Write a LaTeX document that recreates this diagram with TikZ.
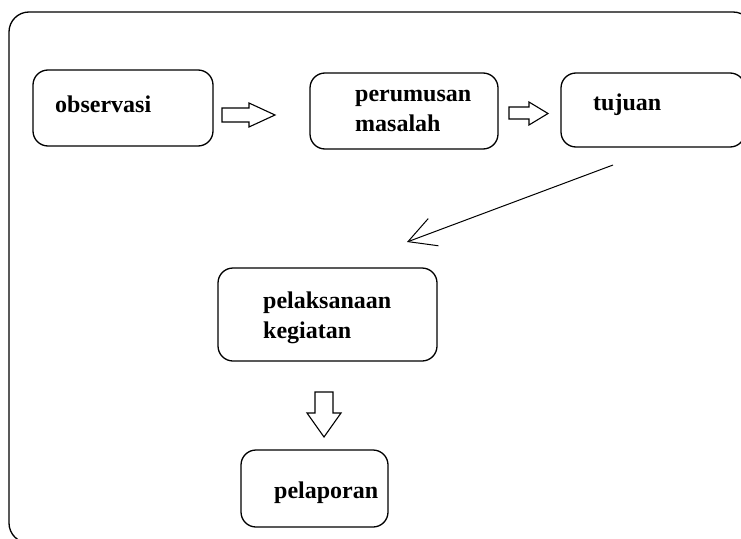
\documentclass[tikz,border=0pt]{standalone}
\usepackage{fontspec}
\setmainfont{Liberation Serif}
\usetikzlibrary{arrows.meta}
\begin{document}
\begin{tikzpicture}[x=1pt,y=-1pt,
    box/.style={draw, rounded corners=15pt, line width=1.3pt, inner sep=0pt},
    lbl/.style={anchor=base west, inner sep=0pt, align=left,
        font=\fontsize{24}{30}\selectfont\bfseries},
    hollow/.style={draw, line width=1.1pt, line join=miter}]
    \useasboundingbox (0,0) rectangle (741,538);
    \clip (0,0) rectangle (741,538);

    % Frame
    \draw[line width=1.3pt, rounded corners=20pt] (9,12) rectangle (753,543);

    % First row
    \node[box, minimum width=180pt, minimum height=76pt] (obs) at (123,108) {};
    \node[box, minimum width=188pt, minimum height=76pt] (rum) at (404,111) {};
    \node[box, minimum width=184pt, minimum height=74pt] (tuj) at (653,110) {};
    \node[lbl] (obs-t) at (55,112) {observasi};
    \node[lbl] (rum-t) at (355,131) {perumusan\\masalah};
    \node[lbl] (tuj-t) at (593,110) {tujuan};

    % Second and third row
    \node[box, minimum width=219pt, minimum height=93pt] (lak) at (327.5,314.5) {};
    \node[box, minimum width=147pt, minimum height=77pt] (lap) at (314.5,488.5) {};
    \node[lbl] (lak-t) at (263,338) {pelaksanaan\\kegiatan};
    \node[lbl] (lap-t) at (274,498) {pelaporan};

    % Block arrows
    \draw[hollow] (222,108) -- (249,108) -- (249,103) -- (275,115)
        -- (249,127) -- (249,122) -- (222,122) -- cycle;
    \draw[hollow] (509,107) -- (529,107) -- (529,102) -- (548,113.5)
        -- (529,125) -- (529,119) -- (509,119) -- cycle;
    \draw[hollow] (315,392) -- (333,392) -- (333,413) -- (341,413)
        -- (324,437) -- (307,413) -- (315,413) -- cycle;

    % Edge
    \coordinate (from) at (613,165);
    \coordinate (to) at (407,242);
    \draw[line width=1pt, -{Straight Barb[length=27pt, width=29pt, line width=1pt]}] (from) -- (to);
\end{tikzpicture}
\end{document}
